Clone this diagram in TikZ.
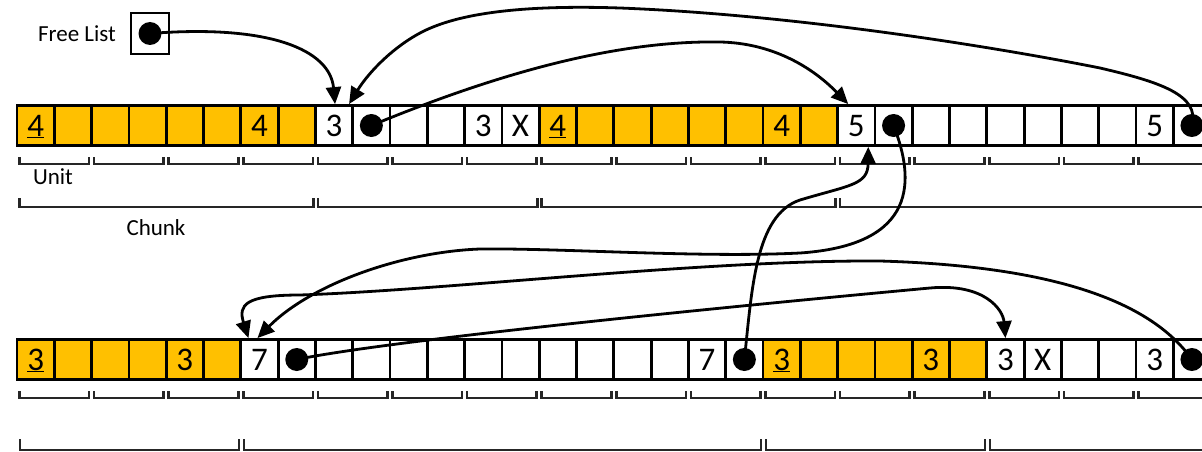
\documentclass[tikz,border=0pt]{standalone}
\usepackage{fontspec}
\setmainfont{Carlito}
\usepackage{xcolor}
\usepackage{tikz}
\usetikzlibrary{arrows.meta}
\definecolor{unitgold}{HTML}{FFC000}

\begin{document}
\begin{tikzpicture}[
  x=1pt, y=-1pt,
  cellw/.style = {draw=black, line width=2.8pt, fill=white,
                  minimum width=37.3pt, minimum height=40pt, inner sep=0pt,
                  text height=21pt, text depth=0pt,
                  font=\fontsize{33}{36}\selectfont},
  flbox/.style = {draw=black, line width=2.8pt, fill=white,
                  minimum width=38pt, minimum height=41pt, inner sep=0pt},
  ptr/.style   = {circle, fill=black, minimum size=23pt, inner sep=0pt},
  lbl/.style   = {font=\fontsize{23}{27}\selectfont, inner sep=0pt},
  brk/.style   = {draw=black!85, line width=2.6pt},
  link/.style  = {-{Triangle[length=17pt,width=15pt]}, line width=2.8pt}
]
\useasboundingbox (0,0) rectangle (1202,452);
\clip (0,0) rectangle (1202,452);

%%%%%%%%%%%%%%%%%%%%%%% FREE LIST %%%%%%%%%%%%%%%%%%%%%%%%%%%%%%%%%%%%%%%%%%%%
\node[lbl] (fltext) at (77,34) {Free List};
\node[flbox] (flist) at (150,33.5) {};
\node[ptr] (dfl) at (flist) {};

%%%%%%%%%%%%%%%%%%%%%%% TOP ROW %%%%%%%%%%%%%%%%%%%%%%%%%%%%%%%%%%%%%%%%%%%%%%
\foreach \i/\c/\txt in {
    0/unitgold/\underline{4}, 1/unitgold/{}, 2/unitgold/{}, 3/unitgold/{},
    4/unitgold/{}, 5/unitgold/{}, 6/unitgold/4, 7/unitgold/{},
    8/white/3, 9/white/{}, 10/white/{}, 11/white/{}, 12/white/3, 13/white/X,
    14/unitgold/\underline{4}, 15/unitgold/{}, 16/unitgold/{}, 17/unitgold/{},
    18/unitgold/{}, 19/unitgold/{}, 20/unitgold/4, 21/unitgold/{},
    22/white/5, 23/white/{}, 24/white/{}, 25/white/{}, 26/white/{},
    27/white/{}, 28/white/{}, 29/white/{}, 30/white/5, 31/white/{}}
  \node[cellw, fill=\c] (t\i) at ({35.65+37.3*\i},125.5) {\txt};

%%%%%%%%%%%%%%%%%%%%%%% BOTTOM ROW %%%%%%%%%%%%%%%%%%%%%%%%%%%%%%%%%%%%%%%%%%%
\foreach \i/\c/\txt in {
    0/unitgold/\underline{3}, 1/unitgold/{}, 2/unitgold/{}, 3/unitgold/{},
    4/unitgold/3, 5/unitgold/{},
    6/white/7, 7/white/{}, 8/white/{}, 9/white/{}, 10/white/{}, 11/white/{},
    12/white/{}, 13/white/{}, 14/white/{}, 15/white/{}, 16/white/{},
    17/white/{}, 18/white/7, 19/white/{},
    20/unitgold/\underline{3}, 21/unitgold/{}, 22/unitgold/{}, 23/unitgold/{},
    24/unitgold/3, 25/unitgold/{},
    26/white/3, 27/white/X, 28/white/{}, 29/white/{}, 30/white/3, 31/white/{}}
  \node[cellw, fill=\c] (b\i) at ({35.65+37.3*\i},359.5) {\txt};

\foreach \n in {t9,t23,t31,b7,b19,b31}
  \node[ptr] (d\n) at (\n) {};

%%%%%%%%%%%%%%%%%%%%%%% UNITS AND CHUNKS %%%%%%%%%%%%%%%%%%%%%%%%%%%%%%%%%%%%%
\foreach \u in {0,...,15} {
  \draw[brk] ({17+74.6*\u+2.5},157) |- ({17+74.6*\u+72.1},164) -- ++(0,-7);
  \draw[brk] ({17+74.6*\u+2.5},391) |- ({17+74.6*\u+72.1},398) -- ++(0,-7);
}
\foreach \a/\b in {0/8,8/14,14/22,22/33}
  \draw[brk] ({17+37.3*\a+2.5},198) |- ({17+37.3*\b-2},207) -- ++(0,-9);
\foreach \a/\b in {0/6,6/20,20/26,26/33}
  \draw[brk] ({17+37.3*\a+3},439) |- ({17+37.3*\b-2},450) -- ++(0,-11);

\node[lbl] (unit)  at (53,177)  {Unit};
\node[lbl] (chunk) at (156,228) {Chunk};

%%%%%%%%%%%%%%%%%%%%%%% POINTERS %%%%%%%%%%%%%%%%%%%%%%%%%%%%%%%%%%%%%%%%%%%%%
\draw[link] (dfl.center) .. controls (270,24) and (330,50) .. ([xshift=1pt]t8.north);
\draw[link] (dt31.center) .. controls (1200,95) and (1160,82) .. (1100,68)
      .. controls (1000,48) and (800,15) .. (620,8)
      .. controls (530,5) and (470,12) .. (433,27)
      .. controls (400,40) and (370,70) .. ([xshift=15pt]t8.north);
\draw[link] (dt9.center) .. controls (470,85) and (600,40) .. (720,42)
      .. controls (770,43) and (810,65) .. ([xshift=-8pt]t22.north);
\draw[link] (dt23.center) .. controls (915,180) and (918,245) .. (800,253)
      .. controls (700,258) and (560,248) .. (480,249)
      .. controls (400,252) and (310,285) .. ([xshift=-2pt]b6.north);
\draw[link] (db19.center) .. controls (752,290) and (755,215) .. (800,200)
      .. controls (850,185) and (868,185) .. ([xshift=12pt]t22.south);
\draw[link] (db7.center) .. controls (400,338) and (800,300) .. (930,288)
      .. controls (985,283) and (1003,310) .. (b26.north);
\draw[link] (db31.center) .. controls (1150,300) and (1050,266) .. (880,261)
      .. controls (700,260) and (450,290) .. (300,295)
      .. controls (245,295) and (238,305) .. ([xshift=-11pt]b6.north);

\end{tikzpicture}
\end{document}
